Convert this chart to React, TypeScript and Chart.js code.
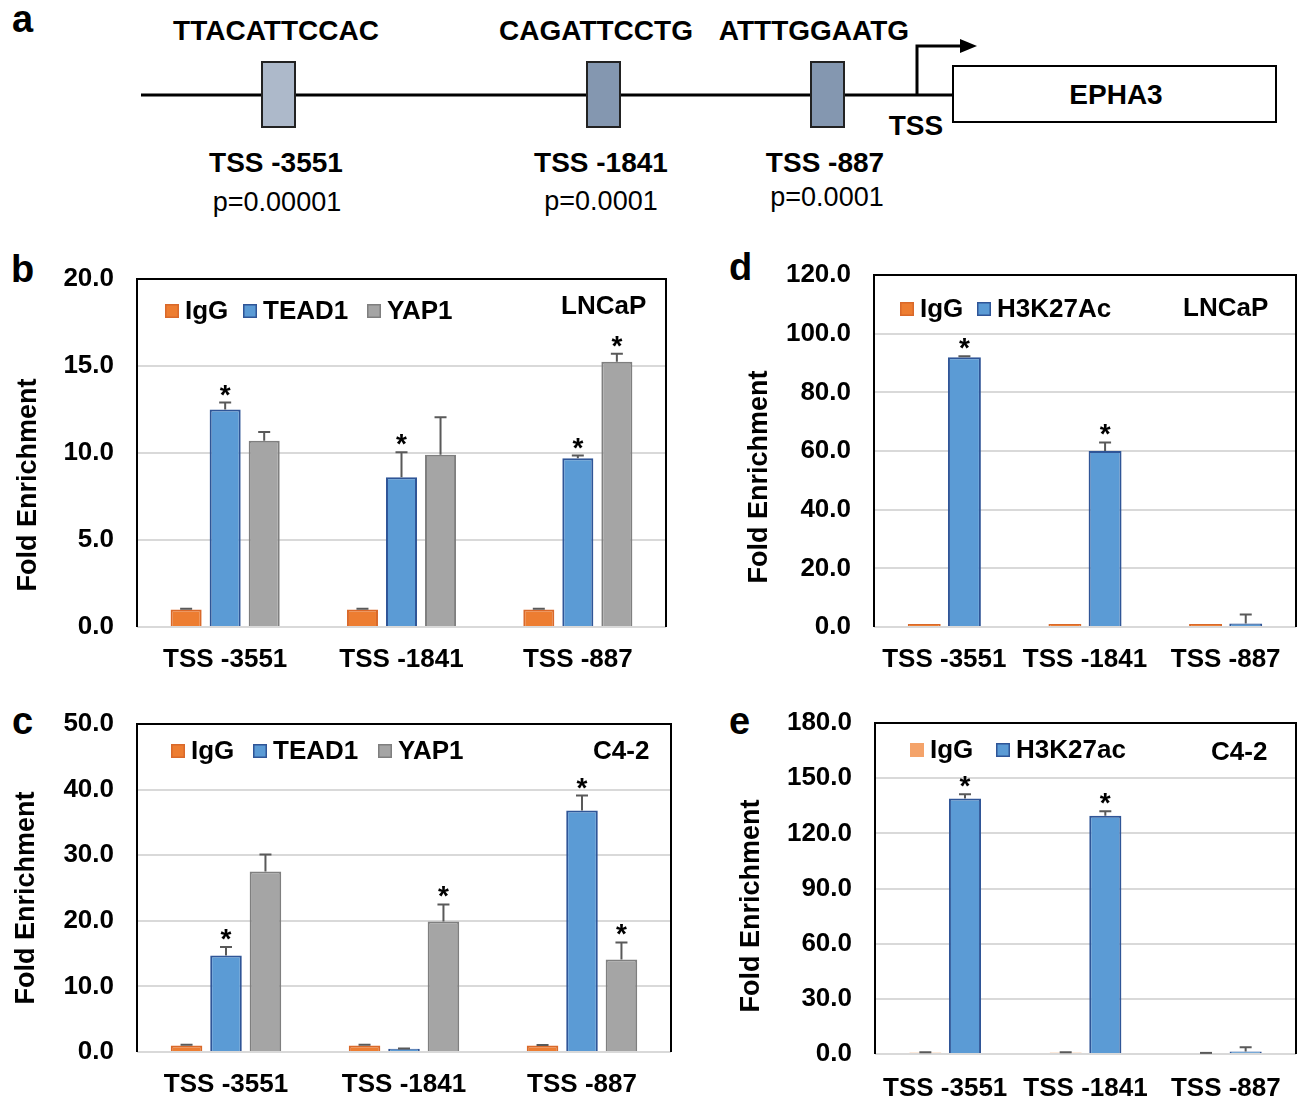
import React, { useEffect, useRef } from "react";
import { Chart, registerables } from "chart.js";
Chart.register(...registerables);

const FONT = '"Liberation Sans", Arial, Helvetica, sans-serif';

const categories = ["TSS -3551", "TSS -1841", "TSS -887"];

// Panel b (LNCaP)
const bIgG = [1.0, 1.0, 1.0];
const bIgGErr = [0.05, 0.05, 0.05];
const bTEAD1 = [12.5, 8.6, 9.7];
const bTEAD1Err = [0.4, 1.45, 0.15];
const bTEAD1Star = [true, true, true];
const bYAP1 = [10.7, 9.9, 15.25];
const bYAP1Err = [0.5, 2.15, 0.45];
const bYAP1Star = [false, false, true];

// Panel c (C4-2)
const cIgG = [1.0, 1.0, 1.0];
const cIgGErr = [0.1, 0.1, 0.05];
const cTEAD1 = [14.7, 0.5, 36.8];
const cTEAD1Err = [1.3, 0.05, 2.3];
const cTEAD1Star = [true, false, true];
const cYAP1 = [27.5, 19.9, 14.1];
const cYAP1Err = [2.6, 2.6, 2.6];
const cYAP1Star = [false, true, true];

// Panel d (LNCaP)
const dIgG = [1.0, 1.0, 1.0];
const dH3K27Ac = [92.0, 60.0, 1.2];
const dH3K27AcErr = [0.3, 2.9, 3.1];
const dH3K27AcStar = [true, true, false];

// Panel e (C4-2)
const eIgG = [0.8, 0.8, 0.6];
const eIgGErr = [0.2, 0.2, 0.0];
const eH3K27ac = [139.0, 129.5, 1.3];
const eH3K27acErr = [2.3, 2.5, 2.4];
const eH3K27acStar = [true, true, false];

const bTicks = { max: 20, step: 5 };
const cTicks = { max: 50, step: 10 };
const dTicks = { max: 120, step: 20 };
const eTicks = { max: 180, step: 30 };

const ORANGE = { fill: "#ed7d31", border: "#d9692a" };
const BLUE = { fill: "#5b9bd5", border: "#2f5597" };
const GRAY = { fill: "#a5a5a5", border: "#7f7f7f" };

type Series = {
  label: string;
  values: number[];
  errors: (number | null)[] | null;
  stars: boolean[] | null;
  fill: string;
  border: string;
};

type PanelCfg = {
  canvas: { left: number; top: number; width: number; height: number };
  area: { left: number; top: number; right: number; bottom: number };
  yMax: number;
  yStep: number;
  catPct: number;
  barPct: number;
  series: Series[];
  legendX: number[];
  legendY: number;
  cellLabel: { text: string; x: number; y: number };
  yTitle: { x: number; y: number };
  xPad: number;
};

const panels: PanelCfg[] = [
  {
    canvas: { left: 0, top: 250, width: 680, height: 440 },
    area: { left: 137, top: 279, right: 666, bottom: 627 },
    yMax: bTicks.max,
    yStep: bTicks.step,
    catPct: 0.664,
    barPct: 0.795,
    series: [
      { label: "IgG", values: bIgG, errors: bIgGErr, stars: null, ...ORANGE },
      { label: "TEAD1", values: bTEAD1, errors: bTEAD1Err, stars: bTEAD1Star, ...BLUE },
      { label: "YAP1", values: bYAP1, errors: bYAP1Err, stars: bYAP1Star, ...GRAY },
    ],
    legendX: [165, 243, 367],
    legendY: 311,
    cellLabel: { text: "LNCaP", x: 561, y: 307 },
    yTitle: { x: 29, y: 485 },
    xPad: 9,
  },
  {
    canvas: { left: 0, top: 695, width: 680, height: 403 },
    area: { left: 137, top: 724, right: 671, bottom: 1052 },
    yMax: cTicks.max,
    yStep: cTicks.step,
    catPct: 0.665,
    barPct: 0.8,
    series: [
      { label: "IgG", values: cIgG, errors: cIgGErr, stars: null, ...ORANGE },
      { label: "TEAD1", values: cTEAD1, errors: cTEAD1Err, stars: cTEAD1Star, ...BLUE },
      { label: "YAP1", values: cYAP1, errors: cYAP1Err, stars: cYAP1Star, ...GRAY },
    ],
    legendX: [171, 253, 378],
    legendY: 751,
    cellLabel: { text: "C4-2", x: 593, y: 752 },
    yTitle: { x: 27, y: 898 },
    xPad: 9,
  },
  {
    canvas: { left: 720, top: 250, width: 578, height: 440 },
    area: { left: 874, top: 275, right: 1296, bottom: 627 },
    yMax: dTicks.max,
    yStep: dTicks.step,
    catPct: 0.571,
    barPct: 0.82,
    series: [
      { label: "IgG", values: dIgG, errors: null, stars: null, ...ORANGE },
      { label: "H3K27Ac", values: dH3K27Ac, errors: dH3K27AcErr, stars: dH3K27AcStar, ...BLUE },
    ],
    legendX: [900, 977],
    legendY: 309,
    cellLabel: { text: "LNCaP", x: 1183, y: 309 },
    yTitle: { x: 760, y: 477 },
    xPad: 9,
  },
  {
    canvas: { left: 720, top: 695, width: 578, height: 403 },
    area: { left: 875, top: 723, right: 1296, bottom: 1054 },
    yMax: eTicks.max,
    yStep: eTicks.step,
    catPct: 0.565,
    barPct: 0.81,
    series: [
      { label: "IgG", values: eIgG, errors: eIgGErr, stars: null, fill: "#f4a36a", border: "#f4a36a" },
      { label: "H3K27ac", values: eH3K27ac, errors: eH3K27acErr, stars: eH3K27acStar, ...BLUE },
    ],
    legendX: [910, 996],
    legendY: 750,
    cellLabel: { text: "C4-2", x: 1211, y: 753 },
    yTitle: { x: 752, y: 906 },
    xPad: 11,
  },
];

function makeDecor(cfg: PanelCfg) {
  const ox = cfg.canvas.left;
  const oy = cfg.canvas.top;
  return {
    id: "decor",
    afterDatasetsDraw(chart: any) {
      const ctx = chart.ctx;
      const ys = chart.scales.y;
      const ca = chart.chartArea;
      ctx.save();
      // error bars and significance stars
      cfg.series.forEach((s, i) => {
        const meta = chart.getDatasetMeta(i);
        meta.data.forEach((el: any, j: number) => {
          const err = s.errors ? s.errors[j] : null;
          let topY = el.y;
          if (err !== null && err !== undefined) {
            topY = ys.getPixelForValue(s.values[j] + err);
            ctx.strokeStyle = "#595959";
            ctx.lineWidth = 2;
            ctx.beginPath();
            ctx.moveTo(el.x, el.y);
            ctx.lineTo(el.x, topY);
            ctx.moveTo(el.x - 6, topY);
            ctx.lineTo(el.x + 6, topY);
            ctx.stroke();
          }
          if (s.stars && s.stars[j]) {
            ctx.fillStyle = "#000";
            ctx.font = `bold 28px ${FONT}`;
            ctx.textAlign = "center";
            ctx.textBaseline = "alphabetic";
            ctx.fillText("*", el.x, topY + 1);
          }
        });
      });
      // frame
      ctx.strokeStyle = "#000";
      ctx.lineWidth = 2;
      ctx.beginPath();
      ctx.moveTo(ca.left, ca.bottom);
      ctx.lineTo(ca.left, ca.top);
      ctx.lineTo(ca.right, ca.top);
      ctx.lineTo(ca.right, ca.bottom);
      ctx.stroke();
      // legend
      ctx.font = `bold 26px ${FONT}`;
      ctx.textBaseline = "middle";
      ctx.textAlign = "left";
      cfg.series.forEach((s, i) => {
        const x = cfg.legendX[i] - ox;
        const y = cfg.legendY - oy;
        ctx.fillStyle = s.fill;
        ctx.fillRect(x, y - 7, 14, 14);
        ctx.strokeStyle = s.border;
        ctx.lineWidth = 1.5;
        ctx.strokeRect(x + 0.75, y - 6.25, 12.5, 12.5);
        ctx.fillStyle = "#000";
        ctx.fillText(s.label, x + 20, y + 1);
      });
      // cell line label
      ctx.fillText(cfg.cellLabel.text, cfg.cellLabel.x - ox, cfg.cellLabel.y - oy);
      // y title
      ctx.save();
      ctx.translate(cfg.yTitle.x - ox, cfg.yTitle.y - oy);
      ctx.rotate(-Math.PI / 2);
      ctx.textAlign = "center";
      ctx.textBaseline = "middle";
      ctx.font = `bold 27px ${FONT}`;
      ctx.fillText("Fold Enrichment", 0, 0);
      ctx.restore();
      ctx.restore();
    },
  };
}

function Panel({ cfg }: { cfg: PanelCfg }) {
  const ref = useRef<HTMLCanvasElement | null>(null);
  useEffect(() => {
    if (!ref.current) return;
    const { canvas, area } = cfg;
    const chart = new Chart(ref.current, {
      type: "bar",
      data: {
        labels: categories,
        datasets: cfg.series.map((s) => ({
          label: s.label,
          data: s.values,
          backgroundColor: s.fill,
          borderColor: s.border,
          borderWidth: 2,
          categoryPercentage: cfg.catPct,
          barPercentage: cfg.barPct,
        })),
      },
      options: {
        animation: false,
        responsive: false,
        devicePixelRatio: 1,
        layout: {
          padding: {
            top: area.top - canvas.top,
            right: canvas.left + canvas.width - area.right,
            left: 0,
            bottom: 0,
          },
        },
        plugins: { legend: { display: false }, tooltip: { enabled: false } },
        scales: {
          x: {
            grid: { display: false },
            border: { display: false },
            ticks: { font: { family: FONT, size: 26, weight: "bold" }, color: "#000", padding: cfg.xPad, maxRotation: 0 },
            afterFit: (s: any) => {
              s.height = canvas.top + canvas.height - area.bottom;
              s.paddingLeft = 0;
              s.paddingRight = 0;
            },
          },
          y: {
            min: 0,
            max: cfg.yMax,
            ticks: {
              stepSize: cfg.yStep,
              font: { family: FONT, size: 26, weight: "bold" },
              color: "#000",
              padding: 23,
              callback: (v: any) => Number(v).toFixed(1),
            },
            grid: { color: "#d9d9d9", lineWidth: 2, drawTicks: false },
            border: { display: false },
            afterFit: (s: any) => {
              s.width = area.left - canvas.left;
              s.paddingTop = 0;
              s.paddingBottom = 0;
            },
          },
        },
      } as any,
      plugins: [makeDecor(cfg)],
    });
    return () => chart.destroy();
  }, [cfg]);
  return (
    <canvas
      ref={ref}
      width={cfg.canvas.width}
      height={cfg.canvas.height}
      style={{
        position: "absolute",
        left: cfg.canvas.left,
        top: cfg.canvas.top,
        width: cfg.canvas.width,
        height: cfg.canvas.height,
      }}
    />
  );
}

function Diagram() {
  const bold = { fontFamily: FONT, fontWeight: 700, fontSize: 28 } as const;
  const normal = { fontFamily: FONT, fontWeight: 400, fontSize: 27 } as const;
  const letter = { fontFamily: FONT, fontWeight: 700, fontSize: 38 } as const;
  return (
    <svg width={1298} height={1098} style={{ position: "absolute", left: 0, top: 0 }}>
      <text x={12} y={32} style={letter}>a</text>
      <text x={11} y={282} style={letter}>b</text>
      <text x={12} y={734} style={letter}>c</text>
      <text x={729} y={280} style={letter}>d</text>
      <text x={729} y={734} style={letter}>e</text>

      <line x1={141} y1={95} x2={954} y2={95} stroke="#000" strokeWidth={3} />
      <rect x={262} y={62} width={33} height={65} fill="#adb9ca" stroke="#222" strokeWidth={2} />
      <rect x={587} y={62} width={33} height={65} fill="#8497b0" stroke="#222" strokeWidth={2} />
      <rect x={811} y={62} width={33} height={65} fill="#8497b0" stroke="#222" strokeWidth={2} />
      <path d="M 917 96 V 46 H 962" fill="none" stroke="#000" strokeWidth={3} />
      <polygon points="960,39 977,46 960,53" fill="#000" />
      <rect x={953} y={66} width={323} height={56} fill="#fff" stroke="#000" strokeWidth={2} />

      <text x={276} y={40} textAnchor="middle" style={bold}>TTACATTCCAC</text>
      <text x={596} y={40} textAnchor="middle" style={bold}>CAGATTCCTG</text>
      <text x={814} y={40} textAnchor="middle" style={bold}>ATTTGGAATG</text>
      <text x={1116} y={104} textAnchor="middle" style={bold}>EPHA3</text>
      <text x={916} y={135} textAnchor="middle" style={bold}>TSS</text>

      <text x={276} y={172} textAnchor="middle" style={bold}>TSS -3551</text>
      <text x={601} y={172} textAnchor="middle" style={bold}>TSS -1841</text>
      <text x={825} y={172} textAnchor="middle" style={bold}>TSS -887</text>
      <text x={277} y={211} textAnchor="middle" style={normal}>p=0.00001</text>
      <text x={601} y={210} textAnchor="middle" style={normal}>p=0.0001</text>
      <text x={827} y={206} textAnchor="middle" style={normal}>p=0.0001</text>
    </svg>
  );
}

export default function App() {
  return (
    <div style={{ position: "absolute", left: 0, top: 0, width: 1298, height: 1098, background: "#fff" }}>
      <Diagram />
      {panels.map((p, i) => (
        <Panel key={i} cfg={p} />
      ))}
    </div>
  );
}
